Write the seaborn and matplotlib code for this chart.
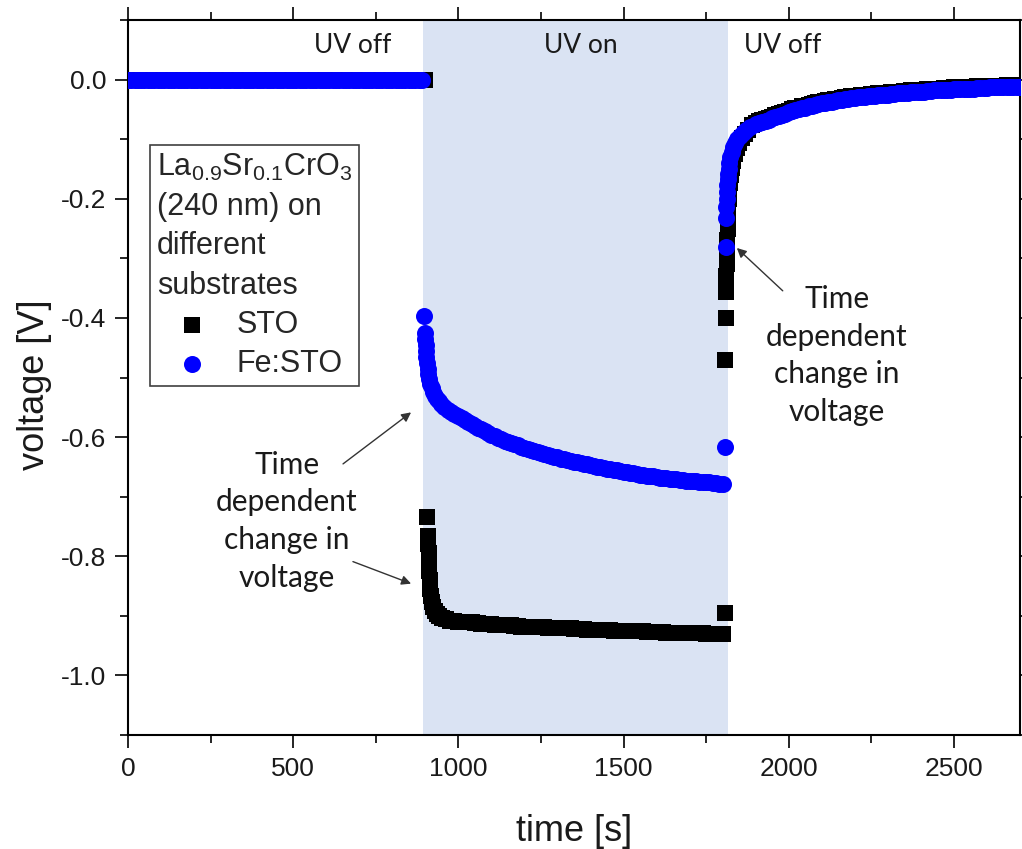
import matplotlib
matplotlib.use("Agg")
import matplotlib.pyplot as plt
from matplotlib.ticker import MultipleLocator
import pandas as pd
import seaborn as sns

# ---------------------------------------------------------------------------
# Measured photovoltage of La0.9Sr0.1CrO3 (240 nm) films, dark / UV / dark
# ---------------------------------------------------------------------------
uv_on_start = 893
uv_on_end = 1816

# dark period before illumination (readings every 10 s)
t_dark_sto = list(range(0, 910, 10))
v_dark_sto = [0.0] * len(t_dark_sto)
t_dark_fe = list(range(0, 900, 10))
v_dark_fe = [0.0] * len(t_dark_fe)

# UV on: first seconds after switching on
t_on_head_sto = [905, 908, 909, 910, 911, 912, 913, 915, 917, 920, 924, 929,
                 935, 943, 952, 962, 975, 988]
v_on_head_sto = [-0.734, -0.766, -0.780, -0.795, -0.810, -0.825, -0.840,
                 -0.855, -0.866, -0.876, -0.885, -0.892, -0.897, -0.901,
                 -0.904, -0.906, -0.908, -0.909]
t_on_head_fe = [895, 899, 900, 901, 902, 903, 905, 907, 909, 912, 915, 919,
                923, 928, 934, 941, 949, 958, 968, 978, 988]
v_on_head_fe = [-0.397, -0.425, -0.435, -0.445, -0.455, -0.465, -0.475,
                -0.485, -0.494, -0.503, -0.511, -0.518, -0.525, -0.531,
                -0.536, -0.540, -0.545, -0.550, -0.554, -0.558, -0.561]

# UV on: slow part (readings every 10 s)
t_on_tail = list(range(1000, 1810, 10))
v_on_tail_sto = [
    -0.910, -0.910, -0.910, -0.911, -0.911, -0.912, -0.912, -0.913, -0.913, -0.914,
    -0.914, -0.915, -0.915, -0.915, -0.915, -0.916, -0.916, -0.917, -0.917, -0.918,
    -0.918, -0.918, -0.918, -0.919, -0.919, -0.919, -0.919, -0.920, -0.920, -0.920,
    -0.920, -0.921, -0.921, -0.921, -0.921, -0.922, -0.922, -0.922, -0.922, -0.923,
    -0.923, -0.923, -0.923, -0.924, -0.924, -0.924, -0.924, -0.925, -0.925, -0.925,
    -0.925, -0.926, -0.926, -0.926, -0.926, -0.926, -0.926, -0.927, -0.927, -0.927,
    -0.927, -0.927, -0.927, -0.928, -0.928, -0.928, -0.928, -0.928, -0.928, -0.929,
    -0.929, -0.929, -0.929, -0.929, -0.929, -0.930, -0.930, -0.930, -0.930, -0.930,
    -0.930]
v_on_tail_fe = [
    -0.564, -0.568, -0.571, -0.575, -0.578, -0.581, -0.584, -0.587, -0.590, -0.593,
    -0.596, -0.599, -0.601, -0.604, -0.606, -0.608, -0.610, -0.612, -0.614, -0.616,
    -0.618, -0.620, -0.622, -0.624, -0.625, -0.627, -0.628, -0.630, -0.631, -0.633,
    -0.634, -0.636, -0.637, -0.639, -0.640, -0.641, -0.642, -0.644, -0.645, -0.646,
    -0.647, -0.649, -0.650, -0.651, -0.652, -0.653, -0.654, -0.655, -0.656, -0.657,
    -0.658, -0.659, -0.660, -0.661, -0.662, -0.663, -0.664, -0.665, -0.665, -0.666,
    -0.667, -0.668, -0.668, -0.669, -0.670, -0.671, -0.671, -0.672, -0.672, -0.673,
    -0.673, -0.674, -0.674, -0.675, -0.675, -0.676, -0.676, -0.677, -0.677, -0.678,
    -0.678]

# UV off: relaxation right after switching off
t_off_head_sto = [1806, 1808, 1809, 1810, 1811, 1812, 1813, 1814, 1815, 1816,
                  1817, 1818, 1820, 1822, 1825, 1828, 1832, 1837, 1843, 1850,
                  1858, 1867, 1877, 1888, 1900]
v_off_head_sto = [-0.896, -0.470, -0.400, -0.357, -0.330, -0.310, -0.290,
                  -0.270, -0.250, -0.232, -0.215, -0.200, -0.186, -0.173,
                  -0.160, -0.148, -0.136, -0.125, -0.115, -0.106, -0.098,
                  -0.091, -0.084, -0.077, -0.072]
t_off_head_fe = [1808, 1809, 1810, 1811, 1812, 1813, 1814, 1815, 1816, 1818,
                 1820, 1823, 1827, 1832, 1838, 1845, 1853, 1862, 1872, 1884,
                 1900]
v_off_head_fe = [-0.617, -0.281, -0.233, -0.214, -0.200, -0.188, -0.177,
                 -0.167, -0.158, -0.150, -0.140, -0.130, -0.121, -0.113,
                 -0.106, -0.100, -0.095, -0.090, -0.085, -0.080, -0.075]

# UV off: slow recovery (readings every 10 s)
t_off_tail = list(range(1910, 2710, 10))
v_off_tail_sto = [
    -0.070, -0.068, -0.066, -0.064, -0.062, -0.060, -0.058, -0.056, -0.054, -0.052,
    -0.050, -0.048, -0.047, -0.045, -0.044, -0.042, -0.041, -0.039, -0.038, -0.037,
    -0.036, -0.035, -0.034, -0.033, -0.032, -0.031, -0.030, -0.029, -0.028, -0.028,
    -0.027, -0.026, -0.026, -0.025, -0.024, -0.024, -0.023, -0.023, -0.022, -0.022,
    -0.021, -0.021, -0.020, -0.020, -0.019, -0.019, -0.018, -0.018, -0.017, -0.017,
    -0.017, -0.016, -0.016, -0.015, -0.015, -0.015, -0.014, -0.014, -0.014, -0.013,
    -0.013, -0.013, -0.012, -0.012, -0.012, -0.012, -0.011, -0.011, -0.011, -0.011,
    -0.010, -0.010, -0.010, -0.010, -0.010, -0.009, -0.009, -0.009, -0.009, -0.009]
v_off_tail_fe = [
    -0.073, -0.071, -0.069, -0.067, -0.065, -0.063, -0.061, -0.059, -0.057, -0.055,
    -0.053, -0.051, -0.050, -0.048, -0.047, -0.045, -0.044, -0.042, -0.041, -0.040,
    -0.039, -0.038, -0.037, -0.036, -0.035, -0.034, -0.033, -0.032, -0.031, -0.031,
    -0.030, -0.029, -0.029, -0.028, -0.027, -0.027, -0.026, -0.026, -0.025, -0.025,
    -0.024, -0.024, -0.023, -0.023, -0.022, -0.022, -0.021, -0.021, -0.020, -0.020,
    -0.020, -0.019, -0.019, -0.018, -0.018, -0.018, -0.017, -0.017, -0.017, -0.016,
    -0.016, -0.016, -0.015, -0.015, -0.015, -0.015, -0.014, -0.014, -0.014, -0.014,
    -0.013, -0.013, -0.013, -0.013, -0.013, -0.012, -0.012, -0.012, -0.012, -0.012]

sto = pd.DataFrame({
    "time": t_dark_sto + t_on_head_sto + t_on_tail + t_off_head_sto + t_off_tail,
    "voltage": v_dark_sto + v_on_head_sto + v_on_tail_sto + v_off_head_sto + v_off_tail_sto,
})
fe = pd.DataFrame({
    "time": t_dark_fe + t_on_head_fe + t_on_tail + t_off_head_fe + t_off_tail,
    "voltage": v_dark_fe + v_on_head_fe + v_on_tail_fe + v_off_head_fe + v_off_tail_fe,
})

x_ticks = [0, 500, 1000, 1500, 2000, 2500]
y_ticks = [0.0, -0.2, -0.4, -0.6, -0.8, -1.0]

# ---------------------------------------------------------------------------
sns.set_style("ticks")
plt.rcParams["font.family"] = ["Liberation Sans", "DejaVu Sans"]
plt.rcParams["mathtext.default"] = "regular"

fig = plt.figure(figsize=(10.22, 8.49), dpi=100)
ax = fig.add_axes([0.1252, 0.1343, 0.8728, 0.8421])

ax.axvspan(uv_on_start, uv_on_end, color="#dae3f3", lw=0, zorder=0)

sns.scatterplot(data=sto, x="time", y="voltage", ax=ax, marker="s", s=117,
                color="black", linewidth=0, label="STO", zorder=3)
sns.scatterplot(data=fe, x="time", y="voltage", ax=ax, marker="o", s=150,
                color="#0000ff", linewidth=0, label="Fe:STO", zorder=4)

ax.set_xlim(0, 2700)
ax.set_ylim(-1.1, 0.1)
ax.set_xticks(x_ticks)
ax.set_yticks(y_ticks)
ax.set_yticklabels([f"{v:.1f}" for v in y_ticks])
ax.xaxis.set_minor_locator(MultipleLocator(250))
ax.yaxis.set_minor_locator(MultipleLocator(0.1))

for side in ["left", "right", "top", "bottom"]:
    ax.spines[side].set_visible(True)
    ax.spines[side].set_linewidth(1.5)
    ax.spines[side].set_color("black")
ax.tick_params(which="both", direction="out", top=True, right=True,
               width=1.2, color="black", labelsize=19, labelcolor="#1a1a1a")
ax.tick_params(which="major", length=9.5, pad=6)
ax.tick_params(which="minor", length=5.5)

ax.set_xlabel("time [s]", fontsize=26, color="#1a1a1a")
ax.set_ylabel("voltage [V]", fontsize=26, color="#1a1a1a")
ax.xaxis.set_label_coords(0.5, -0.11)
ax.yaxis.set_label_coords(-0.085, 0.49)

# illumination phases
phase_font = dict(family=["Lato", "DejaVu Sans"], fontsize=19, color="#1a1a1a")
ax.text(680, 0.057, "UV off", ha="center", va="center", **phase_font)
ax.text(1372, 0.057, "UV on", ha="center", va="center", **phase_font)
ax.text(1982, 0.057, "UV off", ha="center", va="center", **phase_font)

# transient annotations
note_font = dict(family=["Lato", "DejaVu Sans"], fontsize=21.5, color="#1a1a1a")
ax.text(481, -0.741, "Time\ndependent\nchange in\nvoltage", ha="center",
        va="center", linespacing=1.42, **note_font)
ax.text(2146, -0.463, "Time\ndependent\nchange in\nvoltage", ha="center",
        va="center", linespacing=1.42, **note_font)
arrow = dict(arrowstyle="-|>", color="#333333", lw=1.0, mutation_scale=14,
             shrinkA=0, shrinkB=0)
ax.annotate("", xy=(857, -0.5585), xytext=(651, -0.645), arrowprops=arrow)
ax.annotate("", xy=(857, -0.846), xytext=(681, -0.809), arrowprops=arrow)
ax.annotate("", xy=(1843, -0.2826), xytext=(1982, -0.3545), arrowprops=arrow)

title = "La$_{0.9}$Sr$_{0.1}$CrO$_{3}$\n(240 nm) on\ndifferent\nsubstrates"
leg = ax.legend(title=title, loc="upper left", bbox_to_anchor=(0.0247, 0.825),
                borderaxespad=0, frameon=True, fancybox=False,
                edgecolor="#404040", framealpha=1, fontsize=22,
                title_fontsize=22, alignment="left", borderpad=0.22,
                handlelength=2.3, handletextpad=0.3, labelspacing=0.3)
leg.get_frame().set_linewidth(1.2)
leg.get_title().set_linespacing(1.4)

fig.savefig("out.png", dpi=100)
